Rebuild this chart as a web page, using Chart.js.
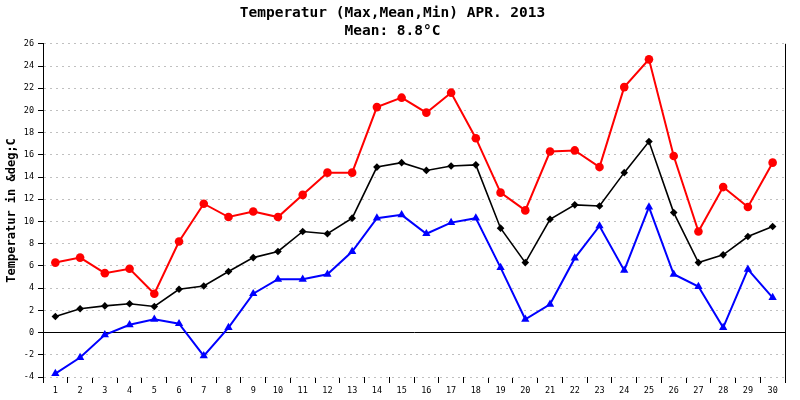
<!DOCTYPE html>
<html>
<head>
<meta charset="utf-8">
<title>Temperatur APR. 2013</title>
<script src="https://cdn.jsdelivr.net/npm/chart.js@4.4.1/dist/chart.umd.min.js"></script>
<style>
  html, body { margin: 0; padding: 0; background: #fff; }
  #chart { display: block; }
</style>
</head>
<body>
<canvas id="chart" width="800" height="400"></canvas>
<script>
// April 2013, daily values in °C
const days = Array.from({ length: 30 }, (_, i) => String(i + 1));

const tMax = [6.3, 6.75, 5.35, 5.75, 3.5, 8.2, 11.6, 10.4, 10.9, 10.4,
              12.4, 14.4, 14.4, 20.3, 21.15, 19.8, 21.6, 17.5, 12.6, 11.0,
              16.3, 16.4, 14.9, 22.1, 24.6, 15.9, 9.1, 13.1, 11.3, 15.3];

const tMean = [1.45, 2.15, 2.4, 2.6, 2.35, 3.9, 4.2, 5.5, 6.75, 7.3,
               9.1, 8.9, 10.3, 14.9, 15.3, 14.6, 15.0, 15.1, 9.4, 6.3,
               10.2, 11.5, 11.4, 14.4, 17.2, 10.8, 6.3, 7.0, 8.65, 9.55];

const tMin = [-3.7, -2.25, -0.2, 0.7, 1.2, 0.8, -2.1, 0.45, 3.5, 4.8,
              4.8, 5.25, 7.3, 10.3, 10.6, 8.9, 9.9, 10.3, 5.85, 1.2,
              2.55, 6.7, 9.6, 5.6, 11.3, 5.25, 4.15, 0.45, 5.7, 3.15];

const titleLines = ["Temperatur (Max,Mean,Min) APR. 2013", "Mean: 8.8°C"];
const yTitle = "Temperatur in &deg;C";

const mono = "'DejaVu Sans Mono', monospace";

// left axis running past the bottom, plus the right frame line
const frame = {
  id: "frame",
  afterDraw(chart) {
    const { ctx, chartArea: a } = chart;
    ctx.save();
    ctx.strokeStyle = "#000";
    ctx.lineWidth = 1;
    ctx.beginPath();
    ctx.moveTo(Math.round(a.left) + 0.5, a.top);
    ctx.lineTo(Math.round(a.left) + 0.5, a.bottom + 6);
    ctx.moveTo(Math.round(a.right) + 0.5, a.top);
    ctx.lineTo(Math.round(a.right) + 0.5, a.bottom + 6);
    ctx.stroke();
    ctx.restore();
  }
};

new Chart(document.getElementById("chart"), {
  type: "line",
  data: {
    labels: days,
    datasets: [
      { label: "Max", data: tMax, borderColor: "#ff0000", backgroundColor: "#ff0000",
        borderWidth: 2, pointStyle: "circle", pointRadius: 4.3, pointBorderWidth: 0 },
      { label: "Mean", data: tMean, borderColor: "#000000", backgroundColor: "#000000",
        borderWidth: 1.6, pointStyle: "rectRot", pointRadius: 3.8, pointBorderWidth: 0 },
      { label: "Min", data: tMin, borderColor: "#0000ff", backgroundColor: "#0000ff",
        borderWidth: 2, pointStyle: "triangle", pointRadius: 4.8, pointBorderWidth: 0 }
    ]
  },
  options: {
    responsive: false,
    animation: false,
    layout: { padding: { top: 0, right: 15, bottom: 0, left: 0 } },
    plugins: {
      legend: { display: false },
      tooltip: { enabled: false },
      title: {
        display: true,
        text: titleLines,
        color: "#000",
        font: { family: mono, size: 14.5, weight: "bold", lineHeight: 1.2 },
        padding: { top: 5, bottom: 4 }
      }
    },
    scales: {
      x: {
        offset: true,
        afterFit: s => { s.height = 23; },
        border: { display: false },
        grid: { display: true, offset: true, drawOnChartArea: false, drawTicks: true,
                tickLength: 6, tickColor: "#000", tickWidth: 1 },
        ticks: { color: "#000", padding: 3, maxRotation: 0, autoSkip: false,
                 font: { family: mono, size: 8.5 } }
      },
      y: {
        min: -4,
        max: 26,
        afterFit: s => { s.width = 43; },
        border: { display: true, color: "#000", width: 1,
                  dash: c => (c.tick && c.tick.value === 0 ? [] : [2, 4]) },
        grid: {
          color: c => (c.tick && c.tick.value === 0 ? "#000" : "#c0c0c0"),
          lineWidth: 1,
          tickLength: 5,
          tickColor: "#000"
        },
        ticks: { stepSize: 2, color: "#000", padding: 4,
                 font: { family: mono, size: 8.5 } },
        title: { display: true, text: yTitle, color: "#000",
                 font: { family: mono, size: 12, weight: "bold", lineHeight: 1.2 },
                 padding: { top: 5, bottom: 0 } }
      }
    }
  },
  plugins: [frame]
});
</script>
</body>
</html>
